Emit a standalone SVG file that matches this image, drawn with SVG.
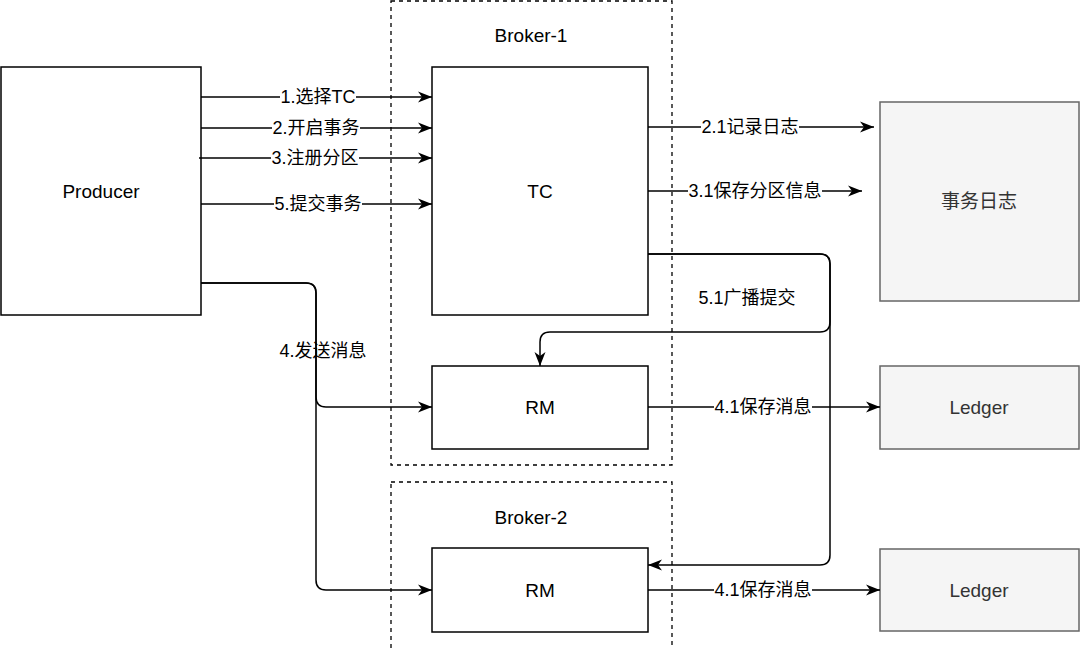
<svg xmlns="http://www.w3.org/2000/svg" width="1080" height="649" viewBox="0 0 1080 649">
<defs>
<marker id="arr" markerWidth="14" markerHeight="12" refX="14" refY="6" orient="auto" markerUnits="userSpaceOnUse">
<path d="M0,0.5 L14,6 L0,11.5 L4,6 Z" fill="#000"/>
</marker>
<style>
text{font-family:"Liberation Sans","Noto Sans CJK SC",sans-serif;}
.node{fill:#fff;stroke:#000;stroke-width:1.5;}
.store{fill:#f5f5f5;stroke:#666;stroke-width:1.5;}
.grp{fill:none;stroke:#000;stroke-width:1.3;stroke-dasharray:4 4;}
.nt{font-size:19px;fill:#000;text-anchor:middle;}
.st{font-size:19px;fill:#333;text-anchor:middle;}
.el{font-size:18px;fill:#000;text-anchor:middle;dominant-baseline:central;}
.bg{fill:#fff;}
.c{fill:none;stroke:#000;stroke-width:1.5;marker-end:url(#arr);}
</style>
</defs>
<rect width="1080" height="649" fill="#fff"/>
<g id="broker1">
<rect class="grp" x="391" y="1" width="281" height="464"/>
<text class="nt" x="531" y="42">Broker-1</text>
</g>
<g id="broker2">
<rect class="grp" x="391" y="482" width="281" height="170"/>
<text class="nt" x="531" y="524">Broker-2</text>
</g>
<g id="producer">
<rect class="node" x="1" y="67" width="200" height="248"/>
<text class="nt" x="101" y="198">Producer</text>
</g>
<g id="tc">
<rect class="node" x="432" y="67" width="216" height="248"/>
<text class="nt" x="540" y="198">TC</text>
</g>
<g id="rm1">
<rect class="node" x="432" y="366" width="216" height="83"/>
<text class="nt" x="540" y="414">RM</text>
</g>
<g id="rm2">
<rect class="node" x="432" y="548" width="216" height="84"/>
<text class="nt" x="540" y="597">RM</text>
</g>
<g id="txlog">
<rect class="store" x="880" y="102" width="199" height="199"/>
<text class="st" x="979" y="208">事务日志</text>
</g>
<g id="ledger1">
<rect class="store" x="880" y="366" width="199" height="83"/>
<text class="st" x="979" y="414">Ledger</text>
</g>
<g id="ledger2">
<rect class="store" x="880" y="549" width="199" height="82"/>
<text class="st" x="979" y="597">Ledger</text>
</g>
<g id="connectors">
<path class="c" d="M201,97 H432"/>
<path class="c" d="M201,128 H432"/>
<path class="c" d="M199,158 H432"/>
<path class="c" d="M201,204 H432"/>
<path class="c" d="M648,127 H874"/>
<path class="c" d="M648,191 H862"/>
<path class="c" d="M201,283 H306 Q316,283 316,293 V397 Q316,407 326,407 H432"/>
<path class="c" d="M201,283 H306 Q316,283 316,293 V580 Q316,590 326,590 H432"/>
<path class="c" d="M648,254 H820 Q830,254 830,264 V322 Q830,332 820,332 H550 Q540,332 540,342 V366"/>
<path class="c" d="M648,254 H820 Q830,254 830,264 V555 Q830,565 820,565 H648"/>
<path class="c" d="M648,407 H880"/>
<path class="c" d="M648,590 H880"/>
<g id="labels">
<rect class="bg" x="280" y="88" width="76" height="18"/>
<text class="el" x="318" y="97">1.选择TC</text>
<rect class="bg" x="272" y="119" width="88" height="18"/>
<text class="el" x="316" y="128">2.开启事务</text>
<rect class="bg" x="271" y="149" width="88" height="18"/>
<text class="el" x="315" y="158">3.注册分区</text>
<rect class="bg" x="274" y="195" width="88" height="18"/>
<text class="el" x="318" y="204">5.提交事务</text>
<rect class="bg" x="701" y="118" width="98" height="18"/>
<text class="el" x="750" y="127">2.1记录日志</text>
<rect class="bg" x="688" y="182" width="134" height="18"/>
<text class="el" x="755" y="191">3.1保存分区信息</text>
<text class="el" x="747" y="298">5.1广播提交</text>
<text class="el" x="323" y="351">4.发送消息</text>
<rect class="bg" x="714" y="398" width="98" height="18"/>
<text class="el" x="763" y="407">4.1保存消息</text>
<rect class="bg" x="714" y="581" width="98" height="18"/>
<text class="el" x="763" y="590">4.1保存消息</text>
</g>
</g>
</svg>
